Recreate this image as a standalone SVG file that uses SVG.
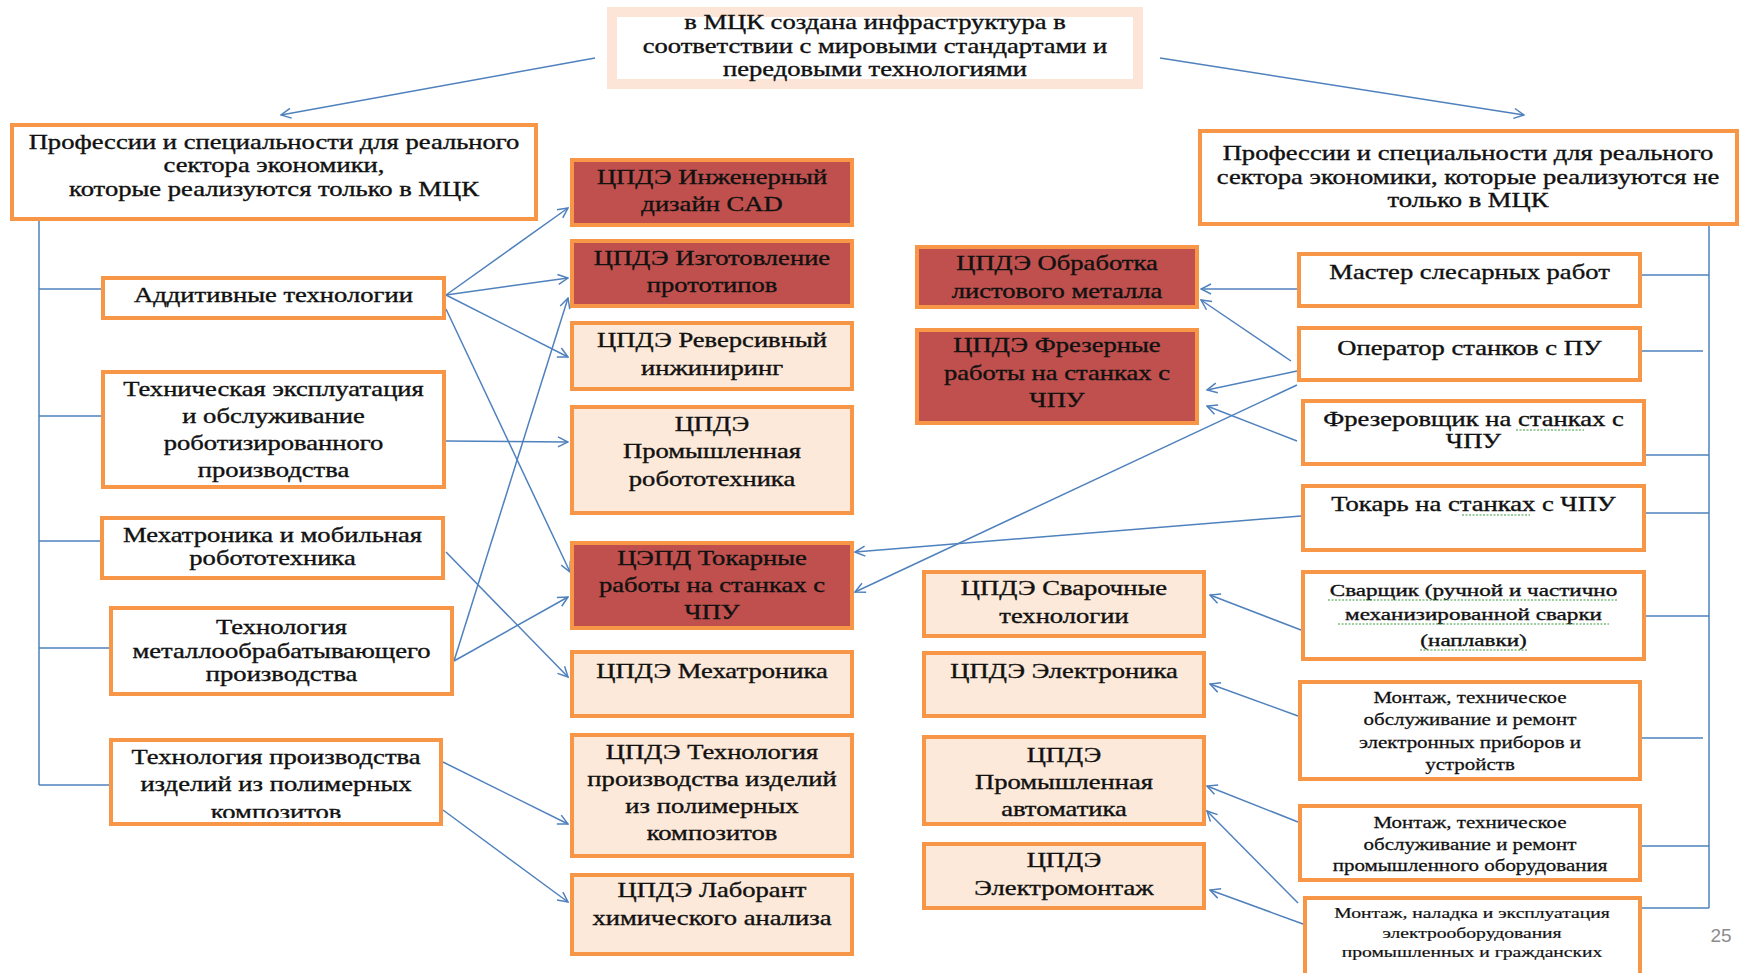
<svg xmlns="http://www.w3.org/2000/svg" width="1741" height="973" viewBox="0 0 1741 973">
<style>
text{font-family:"Liberation Serif","Times New Roman",serif;font-size:20px;fill:#111;stroke:#111;stroke-width:0.35;text-anchor:middle}
.s17{font-size:17px}.s16{font-size:16px;stroke-width:0.25}.s14{font-size:14px;stroke-width:0.2}
.box{fill:#fff;stroke:#F79646;stroke-width:4}
.red{fill:#C0504D;stroke:#F79646;stroke-width:4}
.pch{fill:#FDE9D9;stroke:#F79646;stroke-width:4}
.top{fill:#fff;stroke:#FCE4D6;stroke-width:10}
.ln{stroke:#4F81BD;stroke-width:1.5;fill:none}
.ar{stroke:#4F81BD;stroke-width:1.5;fill:none;marker-end:url(#ah)}
.num{font-family:"Liberation Sans",Arial,sans-serif;font-size:19px;fill:#8c8c8c;stroke:none}
.wv{stroke:#3a9a3a;stroke-width:1;fill:none;stroke-dasharray:2 1.5}
</style>
<defs>
<marker id="ah" viewBox="0 0 12 12" refX="11" refY="6" markerWidth="12" markerHeight="12" markerUnits="userSpaceOnUse" orient="auto">
<path d="M1,1 L11,6 L1,11" fill="none" stroke="#4F81BD" stroke-width="1.5"/>
</marker>
<clipPath id="cpPol"><rect x="111" y="740" width="330" height="78"/></clipPath>
</defs>
<rect width="1741" height="973" fill="#fff"/>

<g id="connectors">
<path class="ln" d="M39,221 V785 M39,289 H101 M39,416 H101 M39,541 H100 M39,648 H109 M39,785 H109"/>
<path class="ln" d="M1709,226 V908 M1642,275 H1709 M1642,351 H1703 M1646,455 H1709 M1646,513 H1709 M1646,616 H1709 M1642,738 H1703 M1642,846 H1709 M1642,908 H1709"/>
<line class="ar" x1="595" y1="58" x2="281" y2="115"/>
<line class="ar" x1="1160" y1="58" x2="1524" y2="115"/>
<line class="ar" x1="446" y1="295" x2="568" y2="208"/>
<line class="ar" x1="446" y1="295" x2="568" y2="278"/>
<line class="ar" x1="446" y1="295" x2="568" y2="357"/>
<line class="ar" x1="446" y1="309" x2="570" y2="572"/>
<line class="ar" x1="446" y1="441" x2="568" y2="442"/>
<line class="ar" x1="446" y1="552" x2="568" y2="677"/>
<line class="ar" x1="454" y1="661" x2="568" y2="298"/>
<line class="ar" x1="454" y1="661" x2="568" y2="597"/>
<line class="ar" x1="443" y1="762" x2="568" y2="824"/>
<line class="ar" x1="443" y1="810" x2="568" y2="902"/>
<line class="ar" x1="1297" y1="289" x2="1201" y2="289"/>
<line class="ar" x1="1291" y1="361" x2="1201" y2="300"/>
<line class="ar" x1="1297" y1="371" x2="1207" y2="390"/>
<line class="ar" x1="1297" y1="441" x2="1207" y2="406"/>
<line class="ar" x1="1297" y1="385" x2="855" y2="592"/>
<line class="ar" x1="1301" y1="516" x2="855" y2="552"/>
<line class="ar" x1="1301" y1="630" x2="1210" y2="595"/>
<line class="ar" x1="1298" y1="716" x2="1210" y2="684"/>
<line class="ar" x1="1298" y1="822" x2="1207" y2="786"/>
<line class="ar" x1="1298" y1="903" x2="1207" y2="811"/>
<line class="ar" x1="1303" y1="924" x2="1210" y2="890"/>
</g>

<g id="n-top"><rect class="top" x="612" y="12" width="526" height="72"/>
<text transform="matrix(1.33 0 0 1 875 0)"><tspan x="0" y="29">в МЦК создана инфраструктура в</tspan><tspan x="0" y="53">соответствии с мировыми стандартами и</tspan><tspan x="0" y="76">передовыми технологиями</tspan></text></g>

<g id="n-lhead"><rect class="box" x="12" y="125" width="524" height="94"/>
<text transform="matrix(1.33 0 0 1 274 0)"><tspan x="0" y="149">Профессии и специальности для реального</tspan><tspan x="0" y="172">сектора экономики,</tspan><tspan x="0" y="196">которые реализуются только в МЦК</tspan></text></g>

<g id="n-rhead"><rect class="box" x="1200" y="131" width="537" height="93"/>
<text transform="matrix(1.33 0 0 1 1468 0)"><tspan x="0" y="160">Профессии и специальности для реального</tspan><tspan x="0" y="184">сектора экономики, которые реализуются не</tspan><tspan x="0" y="207">только в МЦК</tspan></text></g>

<g id="n-addit"><rect class="box" x="103" y="278" width="341" height="40"/>
<text transform="matrix(1.33 0 0 1 273.5 0)"><tspan x="0" y="302">Аддитивные технологии</tspan></text></g>

<g id="n-tech"><rect class="box" x="103" y="372" width="341" height="115"/>
<text transform="matrix(1.33 0 0 1 273.5 0)"><tspan x="0" y="396">Техническая эксплуатация</tspan><tspan x="0" y="423">и обслуживание</tspan><tspan x="0" y="450">роботизированного</tspan><tspan x="0" y="477">производства</tspan></text></g>

<g id="n-mech"><rect class="box" x="102" y="518" width="341" height="60"/>
<text transform="matrix(1.33 0 0 1 272.5 0)"><tspan x="0" y="542">Мехатроника и мобильная</tspan><tspan x="0" y="565">робототехника</tspan></text></g>

<g id="n-metal"><rect class="box" x="111" y="608" width="341" height="86"/>
<text transform="matrix(1.33 0 0 1 281.5 0)"><tspan x="0" y="634">Технология</tspan><tspan x="0" y="658">металлообрабатывающего</tspan><tspan x="0" y="681">производства</tspan></text></g>

<g id="n-polym"><rect class="box" x="111" y="740" width="330" height="84"/>
<g clip-path="url(#cpPol)"><text transform="matrix(1.33 0 0 1 276 0)"><tspan x="0" y="764">Технология производства</tspan><tspan x="0" y="791">изделий из полимерных</tspan><tspan x="0" y="819">композитов</tspan></text></g></g>

<g id="n-cad"><rect class="red" x="572" y="160" width="280" height="65"/>
<text transform="matrix(1.33 0 0 1 712 0)"><tspan x="0" y="184">ЦПДЭ Инженерный</tspan><tspan x="0" y="211">дизайн CAD</tspan></text></g>

<g id="n-proto"><rect class="red" x="572" y="241" width="280" height="65"/>
<text transform="matrix(1.33 0 0 1 712 0)"><tspan x="0" y="265">ЦПДЭ Изготовление</tspan><tspan x="0" y="292">прототипов</tspan></text></g>

<g id="n-rev"><rect class="pch" x="572" y="323" width="280" height="66"/>
<text transform="matrix(1.33 0 0 1 712 0)"><tspan x="0" y="347">ЦПДЭ Реверсивный</tspan><tspan x="0" y="375">инжиниринг</tspan></text></g>

<g id="n-robot"><rect class="pch" x="572" y="407" width="280" height="106"/>
<text transform="matrix(1.33 0 0 1 712 0)"><tspan x="0" y="431">ЦПДЭ</tspan><tspan x="0" y="458">Промышленная</tspan><tspan x="0" y="486">робототехника</tspan></text></g>

<g id="n-tokar"><rect class="red" x="572" y="543" width="280" height="85"/>
<text transform="matrix(1.33 0 0 1 712 0)"><tspan x="0" y="565">ЦЭПД Токарные</tspan><tspan x="0" y="592">работы на станках с</tspan><tspan x="0" y="619">ЧПУ</tspan></text></g>

<g id="n-mechc"><rect class="pch" x="572" y="652" width="280" height="64"/>
<text transform="matrix(1.33 0 0 1 712 0)"><tspan x="0" y="678">ЦПДЭ Мехатроника</tspan></text></g>

<g id="n-polc"><rect class="pch" x="572" y="735" width="280" height="121"/>
<text transform="matrix(1.33 0 0 1 712 0)"><tspan x="0" y="759">ЦПДЭ Технология</tspan><tspan x="0" y="786">производства изделий</tspan><tspan x="0" y="813">из полимерных</tspan><tspan x="0" y="840">композитов</tspan></text></g>

<g id="n-lab"><rect class="pch" x="572" y="875" width="280" height="79"/>
<text transform="matrix(1.33 0 0 1 712 0)"><tspan x="0" y="897">ЦПДЭ Лаборант</tspan><tspan x="0" y="925">химического анализа</tspan></text></g>

<g id="n-sheet"><rect class="red" x="917" y="247" width="280" height="60"/>
<text transform="matrix(1.33 0 0 1 1057 0)"><tspan x="0" y="270">ЦПДЭ Обработка</tspan><tspan x="0" y="298">листового металла</tspan></text></g>

<g id="n-mill"><rect class="red" x="917" y="330" width="280" height="93"/>
<text transform="matrix(1.33 0 0 1 1057 0)"><tspan x="0" y="352">ЦПДЭ Фрезерные</tspan><tspan x="0" y="380">работы на станках с</tspan><tspan x="0" y="407">ЧПУ</tspan></text></g>

<g id="n-weld"><rect class="pch" x="924" y="572" width="280" height="64"/>
<text transform="matrix(1.33 0 0 1 1064 0)"><tspan x="0" y="595">ЦПДЭ Сварочные</tspan><tspan x="0" y="623">технологии</tspan></text></g>

<g id="n-elec"><rect class="pch" x="924" y="653" width="280" height="63"/>
<text transform="matrix(1.33 0 0 1 1064 0)"><tspan x="0" y="678">ЦПДЭ Электроника</tspan></text></g>

<g id="n-auto"><rect class="pch" x="924" y="737" width="280" height="87"/>
<text transform="matrix(1.33 0 0 1 1064 0)"><tspan x="0" y="762">ЦПДЭ</tspan><tspan x="0" y="789">Промышленная</tspan><tspan x="0" y="816">автоматика</tspan></text></g>

<g id="n-emont"><rect class="pch" x="924" y="844" width="280" height="64"/>
<text transform="matrix(1.33 0 0 1 1064 0)"><tspan x="0" y="867">ЦПДЭ</tspan><tspan x="0" y="895">Электромонтаж</tspan></text></g>

<g id="n-master"><rect class="box" x="1299" y="254" width="341" height="52"/>
<text transform="matrix(1.33 0 0 1 1469.5 0)"><tspan x="0" y="279">Мастер слесарных работ</tspan></text></g>

<g id="n-oper"><rect class="box" x="1299" y="328" width="341" height="52"/>
<text transform="matrix(1.33 0 0 1 1469.5 0)"><tspan x="0" y="355">Оператор станков с ПУ</tspan></text></g>

<g id="n-frez"><rect class="box" x="1303" y="401" width="341" height="63"/>
<text transform="matrix(1.33 0 0 1 1473.5 0)"><tspan x="0" y="426">Фрезеровщик на станках с</tspan><tspan x="0" y="448">ЧПУ</tspan></text>
<path class="wv" d="M1516,430 H1584"/></g>

<g id="n-tokr"><rect class="box" x="1303" y="486" width="341" height="64"/>
<text transform="matrix(1.33 0 0 1 1473.5 0)"><tspan x="0" y="511">Токарь на станках с ЧПУ</tspan></text>
<path class="wv" d="M1462,515 H1530"/></g>

<g id="n-svar"><rect class="box" x="1303" y="572" width="341" height="87"/>
<text class="s17" transform="matrix(1.36 0 0 1 1473.5 0)"><tspan x="0" y="596">Сварщик (ручной и частично</tspan><tspan x="0" y="620">механизированной сварки</tspan><tspan x="0" y="646">(наплавки)</tspan></text>
<path class="wv" d="M1328,600 H1617 M1338,624 H1609 M1420,650 H1527"/></g>

<g id="n-mel"><rect class="box" x="1300" y="682" width="340" height="97"/>
<text class="s16" transform="matrix(1.31 0 0 1 1470 0)"><tspan x="0" y="703">Монтаж, техническое</tspan><tspan x="0" y="725">обслуживание  и ремонт</tspan><tspan x="0" y="748">электронных  приборов и</tspan><tspan x="0" y="770">устройств</tspan></text></g>

<g id="n-mprom"><rect class="box" x="1300" y="806" width="340" height="74"/>
<text class="s16" transform="matrix(1.31 0 0 1 1470 0)"><tspan x="0" y="828">Монтаж, техническое</tspan><tspan x="0" y="850">обслуживание  и ремонт</tspan><tspan x="0" y="871">промышленного  оборудования</tspan></text></g>

<g id="n-mnal"><rect class="box" x="1305" y="898" width="335" height="90"/>
<text class="s14" transform="matrix(1.4 0 0 1 1472 0)"><tspan x="0" y="918">Монтаж, наладка и эксплуатация</tspan><tspan x="0" y="938">электрооборудования</tspan><tspan x="0" y="957">промышленных и гражданских</tspan></text></g>

<text class="num" x="1721" y="942">25</text>
</svg>
